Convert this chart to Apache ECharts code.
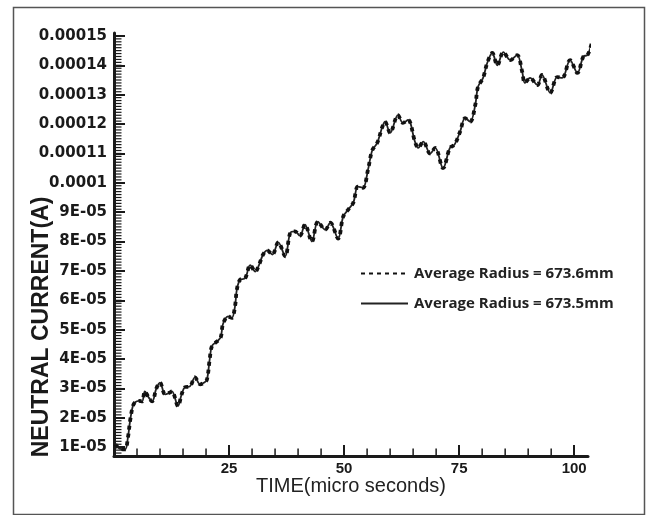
<!DOCTYPE html>
<html>
<head>
<meta charset="utf-8">
<script src="https://cdn.jsdelivr.net/npm/echarts@6/dist/echarts.min.js"></script>
<style>
html,body{margin:0;padding:0;background:#fff;}
#chart{width:646px;height:515px;}
</style>
</head>
<body>
<div id="chart"></div>
<script>
// Time (micro seconds)
const timeUs = [
  0.3, 1.2, 2.4, 3.0, 3.5, 4.1, 4.6, 5.4, 6.1, 6.7, 7.5, 8.3, 9.2, 10.0, 11.1, 12.0, 12.6, 13.9, 14.7, 15.4,
  16.5, 17.6, 18.7, 19.6, 20.2, 20.8, 21.3, 22.4, 23.2, 23.7, 24.8, 25.6, 26.3, 26.7, 27.4, 28.5, 29.6, 30.7,
  31.5, 32.4, 33.3, 34.4, 35.7, 37.2, 38.3, 39.3, 40.4, 41.5, 43.0, 44.3, 45.9, 47.0, 48.7, 49.8, 50.9, 52.0,
  53.0, 54.1, 55.2, 56.1, 57.2, 58.3, 58.9, 60.0, 61.7, 62.8, 63.9, 65.4, 66.1, 67.2, 68.7, 69.8, 71.5, 73.0,
  74.0, 75.2, 76.3, 77.4, 78.5, 79.1, 80.2, 81.1, 82.2, 83.3, 84.6, 86.1, 87.6, 88.7, 89.3, 90.4, 92.0, 93.0,
  94.8, 96.3, 97.4, 99.1, 100.7, 102.0, 102.9, 104.6, 105.2, 106.0
];
// Neutral current (A), average radius = 673.5 mm (solid)
const current673_5 = [
  1.10e-5, 0.95e-5, 0.93e-5, 1.30e-5, 1.90e-5, 2.40e-5, 2.53e-5, 2.58e-5, 2.56e-5, 2.90e-5, 2.70e-5, 2.56e-5, 3.00e-5, 3.20e-5, 2.80e-5, 2.85e-5, 2.90e-5, 2.40e-5, 2.80e-5, 3.04e-5,
  3.07e-5, 3.38e-5, 3.14e-5, 3.20e-5, 3.30e-5, 4.00e-5, 4.45e-5, 4.60e-5, 4.75e-5, 5.20e-5, 5.45e-5, 5.40e-5, 5.80e-5, 6.37e-5, 6.70e-5, 6.75e-5, 7.20e-5, 6.98e-5,
  7.20e-5, 7.56e-5, 7.70e-5, 7.56e-5, 7.97e-5, 7.50e-5, 8.30e-5, 8.35e-5, 8.20e-5, 8.58e-5, 8.00e-5, 8.68e-5, 8.40e-5, 8.64e-5, 8.10e-5, 8.85e-5, 9.09e-5, 9.32e-5,
  9.87e-5, 9.83e-5, 10.45e-5, 11.10e-5, 11.36e-5, 11.90e-5, 12.08e-5, 11.70e-5, 12.30e-5, 12.04e-5, 12.14e-5, 11.40e-5, 11.19e-5, 11.40e-5, 11.00e-5, 11.19e-5, 10.50e-5, 11.19e-5,
  11.30e-5, 11.74e-5, 12.20e-5, 12.08e-5, 12.65e-5, 13.27e-5, 13.57e-5, 14.08e-5, 14.42e-5, 14.00e-5, 14.45e-5, 14.18e-5, 14.35e-5, 13.78e-5, 13.40e-5, 13.57e-5, 13.33e-5, 13.67e-5,
  13.06e-5, 13.60e-5, 13.57e-5, 14.18e-5, 13.74e-5, 14.30e-5, 14.35e-5, 14.95e-5, 14.95e-5, 14.67e-5
];
// Neutral current (A), average radius = 673.6 mm (dotted) - visually coincident with the solid curve
const current673_6 = [
  1.10e-5, 0.95e-5, 0.93e-5, 1.30e-5, 1.90e-5, 2.40e-5, 2.53e-5, 2.58e-5, 2.56e-5, 2.90e-5, 2.70e-5, 2.56e-5, 3.00e-5, 3.20e-5, 2.80e-5, 2.85e-5, 2.90e-5, 2.40e-5, 2.80e-5, 3.04e-5,
  3.07e-5, 3.38e-5, 3.14e-5, 3.20e-5, 3.30e-5, 4.00e-5, 4.45e-5, 4.60e-5, 4.75e-5, 5.20e-5, 5.45e-5, 5.40e-5, 5.80e-5, 6.37e-5, 6.70e-5, 6.75e-5, 7.20e-5, 6.98e-5,
  7.20e-5, 7.56e-5, 7.70e-5, 7.56e-5, 7.97e-5, 7.50e-5, 8.30e-5, 8.35e-5, 8.20e-5, 8.58e-5, 8.00e-5, 8.68e-5, 8.40e-5, 8.64e-5, 8.10e-5, 8.85e-5, 9.09e-5, 9.32e-5,
  9.87e-5, 9.83e-5, 10.45e-5, 11.10e-5, 11.36e-5, 11.90e-5, 12.08e-5, 11.70e-5, 12.30e-5, 12.04e-5, 12.14e-5, 11.40e-5, 11.19e-5, 11.40e-5, 11.00e-5, 11.19e-5, 10.50e-5, 11.19e-5,
  11.30e-5, 11.74e-5, 12.20e-5, 12.08e-5, 12.65e-5, 13.27e-5, 13.57e-5, 14.08e-5, 14.42e-5, 14.00e-5, 14.45e-5, 14.18e-5, 14.35e-5, 13.78e-5, 13.40e-5, 13.57e-5, 13.33e-5, 13.67e-5,
  13.06e-5, 13.60e-5, 13.57e-5, 14.18e-5, 13.74e-5, 14.30e-5, 14.35e-5, 14.95e-5, 14.95e-5, 14.67e-5
];
const seriesNames = ['Average Radius = 673.6mm', 'Average Radius = 673.5mm'];
const xMajorTicks = [25, 50, 75, 100];
const yTickValues = [1e-5, 2e-5, 3e-5, 4e-5, 5e-5, 6e-5, 7e-5, 8e-5, 9e-5, 1e-4, 1.1e-4, 1.2e-4, 1.3e-4, 1.4e-4, 1.5e-4];
const yTickLabels = ['1E-05', '2E-05', '3E-05', '4E-05', '5E-05', '6E-05', '7E-05', '8E-05', '9E-05', '0.0001', '0.00011', '0.00012', '0.00013', '0.00014', '0.00015'];

const pairs = (xs, ys) => xs.map((x, i) => [x, ys[i]]);

const axisColor = '#1a1a1a';
const X_MIN = 0, X_MAX = 103, Y_MIN = 7e-6, Y_MAX = 1.51e-4;
// minor tick positions: every 5 us on x, every 1E-06 A on y
const xMinorTicks = [];
for (let k = 1; k <= 20; k++) xMinorTicks.push(k * 5);
const yMinorTicks = [];
for (let k = 8; k <= 150; k++) yMinorTicks.push(k * 1e-6);

const chart = echarts.init(document.getElementById('chart'), null, { renderer: 'canvas' });
chart.setOption({
  animation: false,
  backgroundColor: '#fff',
  grid: { left: 114, right: 58, top: 33, bottom: 59, containLabel: false },
  xAxis: [
    {
      type: 'value', min: X_MIN, max: X_MAX, position: 'bottom',
      axisLine: { show: true, onZero: false, lineStyle: { color: axisColor, width: 3 } },
      axisTick: { show: false }, axisLabel: { show: false }, splitLine: { show: false }
    },
    {
      type: 'value', min: X_MIN, max: X_MAX, position: 'bottom',
      axisLine: { show: false, onZero: false },
      axisTick: { show: true, inside: true, length: 11, customValues: xMajorTicks, lineStyle: { color: axisColor, width: 2 } },
      axisLabel: {
        show: true, margin: 5, customValues: xMajorTicks,
        fontFamily: 'Liberation Sans', fontWeight: 'bold', fontSize: 15, color: '#1a1a1a'
      },
      splitLine: { show: false },
      name: 'TIME(micro seconds)', nameLocation: 'middle', nameGap: 20, nameMoveOverlap: false,
      nameTextStyle: { fontFamily: 'Liberation Sans', fontSize: 20, color: '#222' }
    }
  ],
  yAxis: [
    {
      type: 'value', min: Y_MIN, max: Y_MAX, position: 'left',
      axisLine: { show: true, onZero: false, lineStyle: { color: axisColor, width: 3 } },
      axisTick: { show: false }, axisLabel: { show: false }, splitLine: { show: false }
    },
    {
      type: 'value', min: Y_MIN, max: Y_MAX, position: 'left',
      axisLine: { show: false, onZero: false },
      axisTick: { show: true, inside: true, length: 11, customValues: yTickValues, lineStyle: { color: axisColor, width: 2 } },
      axisLabel: {
        show: true, margin: 7, customValues: yTickValues,
        fontFamily: 'DejaVu Sans', fontWeight: 'bold', fontSize: 15, color: '#1a1a1a',
        formatter: function (v) {
          const idx = Math.round(v / 1e-5) - 1;
          return yTickLabels[idx] !== undefined ? yTickLabels[idx] : '';
        }
      },
      splitLine: { show: false }
    }
  ],
  legend: {
    orient: 'vertical', left: 355, top: 261,
    itemWidth: 47, itemHeight: 14, itemGap: 15,
    itemStyle: { opacity: 0 },
    data: [seriesNames[0], seriesNames[1]],
    textStyle: { fontFamily: 'Open Sans', fontWeight: 'bold', fontSize: 15, color: '#222', padding: [0, 0, 0, 1] }
  },
  series: [
    {
      name: seriesNames[1], type: 'line', xAxisIndex: 0, yAxisIndex: 0,
      data: pairs(timeUs, current673_5), showSymbol: false, symbol: 'none', smooth: 0.35, clip: false,
      lineStyle: { color: '#222', width: 1.8, type: 'solid' }, itemStyle: { color: '#222' }, z: 2
    },
    {
      name: seriesNames[0], type: 'line', xAxisIndex: 0, yAxisIndex: 0,
      data: pairs(timeUs, current673_6), showSymbol: false, symbol: 'none', smooth: 0.35, clip: false,
      lineStyle: { color: '#111', width: 3.8, type: [4, 4] }, itemStyle: { color: '#111' }, z: 3
    },
    {
      // minor ticks along the x axis, placed through the axis scale
      name: 'xMinorTicks', type: 'scatter', xAxisIndex: 0, yAxisIndex: 0, silent: true, clip: false,
      data: xMinorTicks.map(t => [t, Y_MIN]),
      symbol: 'rect', symbolSize: [1.5, 7], symbolOffset: [0, -4],
      itemStyle: { color: axisColor, opacity: 1 }, z: 4
    },
    {
      // minor ticks along the y axis, placed through the axis scale
      name: 'yMinorTicks', type: 'scatter', xAxisIndex: 0, yAxisIndex: 0, silent: true, clip: false,
      data: yMinorTicks.map(v => [X_MIN, v]),
      symbol: 'rect', symbolSize: [7, 1.2], symbolOffset: [4, 0],
      itemStyle: { color: axisColor, opacity: 1 }, z: 4
    }
  ],
  graphic: [
    {
      type: 'rect', left: 11, top: 5, silent: true,
      shape: { width: 631, height: 507 },
      style: { fill: 'none', stroke: '#555', lineWidth: 1.5 }
    },
    {
      type: 'text', x: 42, y: 327, rotation: Math.PI / 2, silent: true,
      style: {
        text: 'NEUTRAL CURRENT(A)', fontFamily: 'Liberation Sans', fontWeight: 'bold', fontSize: 23,
        fill: '#1a1a1a', align: 'center', verticalAlign: 'middle'
      }
    }
  ]
});
</script>
</body>
</html>
